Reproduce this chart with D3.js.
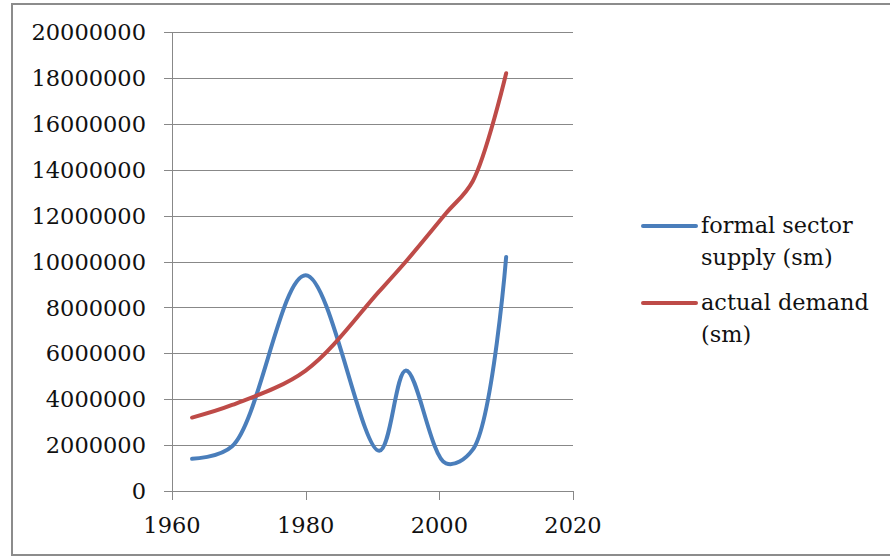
<!DOCTYPE html>
<html><head><meta charset="utf-8">
<script src="https://cdn.jsdelivr.net/npm/d3@7/dist/d3.min.js"></script>
<style>body{margin:0;background:#fff}svg{display:block}</style>
</head><body><svg id="c" width="890" height="556"></svg>
<script>
const supplyYears = [1963, 1969, 1980, 1991, 1995, 2001, 2005, 2010];
const supplyValues = [1400000, 1950000, 9400000, 1750000, 5250000, 1200000, 1800000, 10200000];
const demandYears = [1963, 1969, 1980, 1991, 1995, 2001, 2005, 2010];
const demandValues = [3200000, 3750000, 5250000, 8700000, 10000000, 12100000, 13500000, 18200000];
const xTicks = [1960, 1980, 2000, 2020];
const yTicks = [0, 2000000, 4000000, 6000000, 8000000, 10000000, 12000000, 14000000, 16000000, 18000000, 20000000];
const seriesNames = ["formal sector|supply (sm)", "actual demand|(sm)"];
const colors = ["#4A7EBB", "#BE4B48"];

const svg = d3.select("#c");
svg.append("rect").attr("x", 12).attr("y", 4).attr("width", 900).attr("height", 551)
  .attr("fill", "#fff").attr("stroke", "#8c8c8c").attr("stroke-width", 2);

const x = d3.scaleLinear().domain([1960, 2020]).range([172, 573]);
const y = d3.scaleLinear().domain([0, 20000000]).range([491, 32]);
const font = "'DejaVu Serif', serif";

svg.append("g").selectAll("line").data(yTicks).join("line")
  .attr("x1", 164).attr("x2", 573).attr("y1", d => Math.round(y(d)) + 0.5).attr("y2", d => Math.round(y(d)) + 0.5)
  .attr("stroke", "#888").attr("stroke-width", 1);
svg.append("line").attr("x1", 172.5).attr("x2", 172.5).attr("y1", y(20000000)).attr("y2", 500)
  .attr("stroke", "#888");
svg.append("g").selectAll("line").data(xTicks).join("line")
  .attr("x1", d => Math.round(x(d)) + 0.5).attr("x2", d => Math.round(x(d)) + 0.5)
  .attr("y1", 491).attr("y2", 500).attr("stroke", "#888");
svg.append("g").selectAll("text").data(yTicks).join("text")
  .attr("x", 146).attr("y", d => y(d)).attr("dy", "0.36em").attr("text-anchor", "end")
  .attr("font-family", font).attr("font-size", 22.5).attr("fill", "#111").text(d => d3.format("d")(d));
svg.append("g").selectAll("text").data(xTicks).join("text")
  .attr("x", d => x(d)).attr("y", 533).attr("text-anchor", "middle")
  .attr("font-family", font).attr("font-size", 22.5).attr("fill", "#111").text(d => d);

const line = d3.line().x(d => x(d[0])).y(d => y(d[1])).curve(d3.curveCatmullRom.alpha(0.5));
const series = [d3.zip(supplyYears, supplyValues), d3.zip(demandYears, demandValues)];
series.forEach((s, i) => {
  svg.append("path").attr("d", line(s)).attr("fill", "none").attr("stroke", colors[i])
    .attr("stroke-width", 4).attr("stroke-linecap", "round").attr("stroke-linejoin", "round");
});

const legY = [226, 303];
seriesNames.forEach((name, i) => {
  const g = svg.append("g");
  g.append("line").attr("x1", 643).attr("x2", 696).attr("y1", legY[i]).attr("y2", legY[i])
    .attr("stroke", colors[i]).attr("stroke-width", 4).attr("stroke-linecap", "round");
  name.split("|").forEach((t, j) => {
    g.append("text").attr("x", 701).attr("y", legY[i] + 7 + j * 32)
      .attr("font-family", font).attr("font-size", 22.4).attr("fill", "#111").text(t);
  });
});
</script></body></html>
